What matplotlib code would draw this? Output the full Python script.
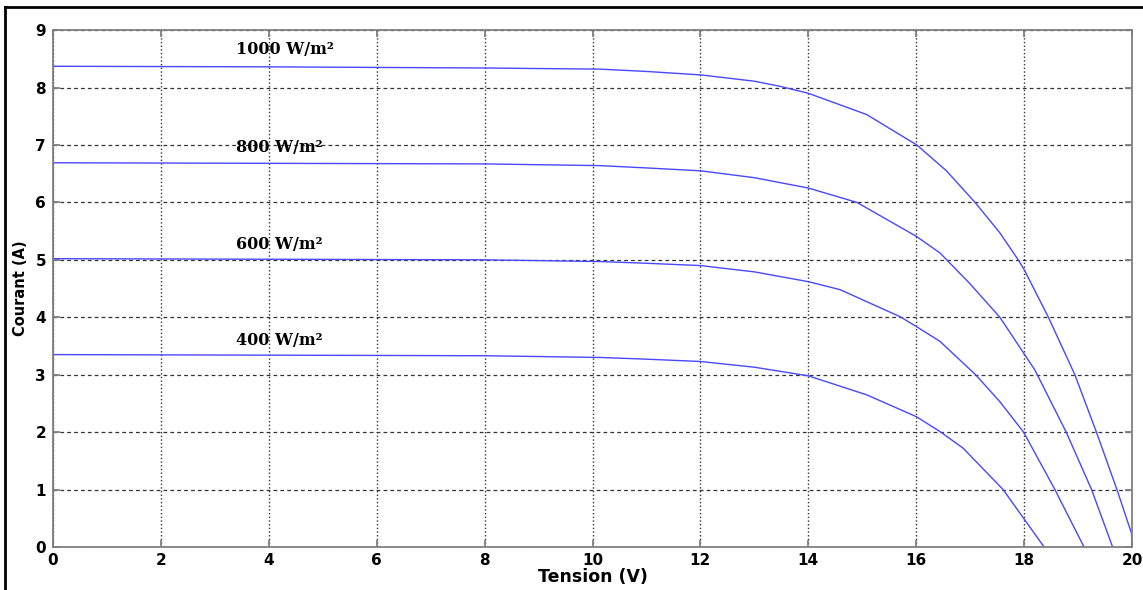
import matplotlib.pyplot as plt
from matplotlib.lines import Line2D
import numpy as np

# courbes I-V (tension en V, courant en A)
v_1000 = [0, 0, 4, 8, 10.14, 11, 12, 13, 13.48, 14, 15.08, 16.01, 16.56, 17.09, 17.55,
          17.89, 18, 18.45, 18.94, 19.34, 19.72, 19.99, 20]
i_1000 = [0, 8.37, 8.36, 8.34, 8.32, 8.28, 8.22, 8.11, 8.02, 7.9, 7.53, 7.0, 6.55, 6.0, 5.47,
          5.0, 4.83, 4.0, 3.0, 2.0, 1.0, 0.24, 0]

v_800 = [0, 0, 4, 8, 10.14, 11, 12, 13, 14, 14.9, 16, 16.44, 17.0, 17.55, 18.2, 18.78,
         19.25, 19.64]
i_800 = [0, 6.69, 6.68, 6.67, 6.64, 6.6, 6.55, 6.43, 6.25, 6.0, 5.41, 5.12, 4.58, 4.0,
         3.08, 2.0, 1.0, 0]

v_600 = [0, 0, 4, 8, 10.14, 11, 12, 13, 14, 14.59, 15.7, 16, 16.44, 17.1, 17.55, 17.99,
         18.57, 19.11]
i_600 = [0, 5.02, 5.01, 5.0, 4.97, 4.94, 4.9, 4.79, 4.62, 4.48, 4.01, 3.84, 3.58, 3.0,
         2.53, 2.0, 1.0, 0]

v_400 = [0, 0, 4, 8, 10.14, 11, 12, 13, 14, 15.08, 16, 16.44, 16.87, 17.61, 17.99, 18.37]
i_400 = [0, 3.35, 3.34, 3.33, 3.30, 3.27, 3.23, 3.13, 2.98, 2.65, 2.27, 2.01, 1.72, 1.0,
         0.5, 0]

labels = ['1000 W/m²', '800 W/m²', '600 W/m²', '400 W/m²']
label_pos = [(3.4, 8.66), (3.4, 6.95), (3.4, 5.26), (3.4, 3.6)]

fig = plt.figure(figsize=(11.43, 5.9), dpi=100)
ax = fig.add_axes([0.0464, 0.0729, 0.944, 0.8761])

for v, i in [(v_1000, i_1000), (v_800, i_800), (v_600, i_600), (v_400, i_400)]:
    ax.plot(v, i, color='#4848ff', linewidth=1.0)

for txt, (x, y) in zip(labels, label_pos):
    ax.text(x, y, txt, family='DejaVu Serif', fontweight='bold',
            fontsize=11.5, va='center', ha='left')

ax.set_xlim(0, 20)
ax.set_ylim(0, 9)
ax.set_xticks(np.arange(0, 21, 2))
ax.set_yticks(np.arange(0, 10, 1))

# grille facon matlab
ax.xaxis.grid(True, linestyle=':', color='#333333', linewidth=1.0)
ax.yaxis.grid(True, linestyle='--', color='#333333', linewidth=0.9, dashes=(3, 2.5))

for s in ax.spines.values():
    s.set_color('#808080')
    s.set_linewidth(1.3)
ax.tick_params(direction='in', length=5, color='#808080', width=1.3,
               top=True, right=True, labelsize=11)
ax.tick_params(axis='x', pad=4)
ax.tick_params(axis='y', pad=5)
for lab in ax.get_xticklabels() + ax.get_yticklabels():
    lab.set_family('DejaVu Sans')
    lab.set_fontweight('bold')

ax.set_xlabel('Tension (V)', family='DejaVu Sans', fontweight='bold',
              fontsize=12.5, labelpad=0)
ax.set_ylabel('Courant (A)', family='DejaVu Sans', fontweight='bold',
              fontsize=10.5, labelpad=5)

# cadre noir autour de l'image
fig.add_artist(Line2D([0.0045, 0.0045], [0, 0.988], transform=fig.transFigure,
                      color='black', linewidth=2))
fig.add_artist(Line2D([0.0045, 1], [0.988, 0.988], transform=fig.transFigure,
                      color='black', linewidth=2))

fig.savefig('out.png', dpi=100)
